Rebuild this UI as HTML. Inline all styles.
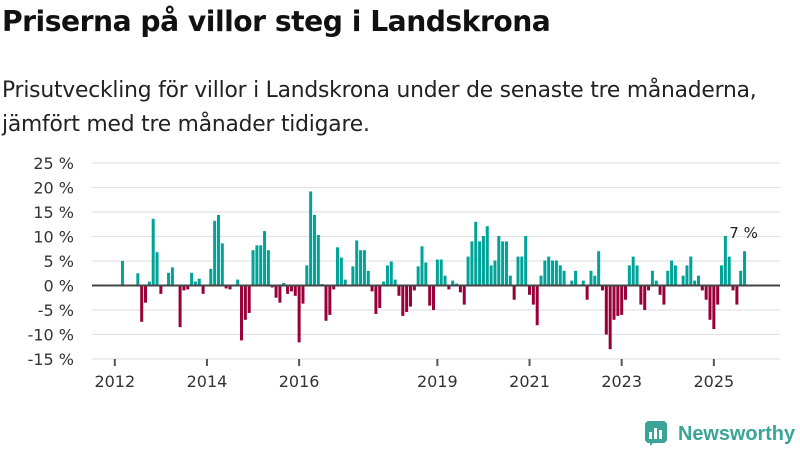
<!DOCTYPE html>
<html><head><meta charset="utf-8"><style>
body{margin:0;width:800px;height:450px;background:#fff;font-family:"Liberation Sans","DejaVu Sans",sans-serif;overflow:hidden;position:relative}
h1{position:absolute;left:2px;top:5px;margin:0;font-size:28.2px;font-weight:bold;color:#111;font-family:"DejaVu Sans","Liberation Sans",sans-serif;letter-spacing:-0.5px}
p{position:absolute;left:2px;top:74px;margin:0;font-size:21.8px;line-height:34px;color:#222;font-family:"DejaVu Sans","Liberation Sans",sans-serif;letter-spacing:-0.2px}
svg{position:absolute;left:0;top:0}
</style></head><body>
<h1>Priserna på villor steg i Landskrona</h1>
<p>Prisutveckling för villor i Landskrona under de senaste tre månaderna,<br>jämfört med tre månader tidigare.</p>
<svg id="chart" width="800" height="450"></svg>
<script>
const yTicks=[25,20,15,10,5,0,-5,-10,-15];
const xTickLabels=["2012","2014","2016","2019","2021","2023","2025"];
const xTickMonths=[0,24,48,84,108,132,156];
const values=[null,null,5,null,null,null,2.5,-7.4,-3.5,0.8,13.6,6.8,-1.7,null,2.6,3.7,null,-8.5,-1,-0.8,2.6,0.8,1.4,-1.7,null,3.4,13.2,14.4,8.6,-0.6,-0.8,null,1.2,-11.2,-7,-5.6,7.2,8.2,8.2,11.1,7.2,-0.4,-2.5,-3.5,0.5,-1.7,-1.2,-2.1,-11.6,-3.7,4.1,19.2,14.4,10.3,0.3,-7.2,-6,-0.8,7.8,5.7,1.2,null,3.9,9.2,7.2,7.2,3,-1.2,-5.8,-4.6,0.8,4.1,4.9,1.2,-2.1,-6.2,-5.4,-4.3,-1,3.9,8,4.7,-4.1,-5,5.3,5.3,2,-0.8,1,0.4,-1.4,-3.9,5.9,9,13,9,10.1,12.1,4.1,5.1,10.1,9,9,2,-2.9,5.9,5.9,10.1,-1.9,-3.9,-8.1,2,5.1,5.9,5.1,5.1,4.1,3,null,1,3,null,1,-2.9,3,2,7,-1,-10,-13,-7,-6.2,-6,-2.9,4.1,5.9,4.1,-3.9,-5,-1,3,1,-1.9,-3.9,3,5.1,4.1,null,2,4.1,5.9,1,2,-1,-2.9,-7,-8.9,-3.9,4.1,10.1,5.9,-1,-3.9,3,7];
const lastLabel="7 %";
const svg=document.getElementById('chart');
const NS='http://www.w3.org/2000/svg';
const y=v=>285.5-v*4.9;
const x=i=>114.8+i*3.84;
function mk(t,a){const e=document.createElementNS(NS,t);for(const k in a)e.setAttribute(k,a[k]);svg.appendChild(e);return e;}
yTicks.forEach(t=>{
  const g=mk('line',{x1:92,x2:780,y1:y(t),y2:y(t),stroke:'#e2e2e2','stroke-width':1.3});
  
  
  const l=mk('text',{x:74,y:y(t)+6,'text-anchor':'end','font-size':16,fill:'#333','font-family':'DejaVu Sans, sans-serif'});
  l.textContent=t+' %';
  
  
});
xTickMonths.forEach((m,k)=>{
  const t=mk('line',{x1:x(m),x2:x(m),y1:359,y2:366,stroke:'#555','stroke-width':2});
  
  
  const l=mk('text',{x:x(m),y:387,'text-anchor':'middle','font-size':16,fill:'#333','font-family':'DejaVu Sans, sans-serif'});
  l.textContent=xTickLabels[k];
  
  
});
values.forEach((v,i)=>{
  if(v===null)return;
  const r=mk('rect',{x:x(i)-1.5,y:Math.min(y(v),y(0)),width:3,height:Math.abs(y(v)-y(0)),fill:v>=0?'#00a398':'#99003a'});
  
  
});
const z=mk('line',{x1:92,x2:780,y1:y(0),y2:y(0),stroke:'#444','stroke-width':2});


const li=values.length-1;
const vl=mk('text',{x:x(li)-1,y:y(values[li])-13,'text-anchor':'middle','font-size':15,fill:'#222','font-family':'DejaVu Sans, sans-serif'});
vl.textContent=lastLabel;


</script>
<svg width="800" height="450" style="pointer-events:none">
<rect x="645" y="421" width="22" height="22" rx="4" fill="#3aa597"/>
<path d="M650 446 L650 440 L656 440 Z" fill="#3aa597"/>
<rect x="649" y="432" width="3" height="7" fill="#fff"/><rect x="654" y="428" width="3" height="11" fill="#fff"/><rect x="659" y="430" width="3" height="9" fill="#fff"/>
<text x="678" y="440" font-size="20" font-weight="bold" fill="#3aa597" font-family="Liberation Sans, sans-serif" textLength="117" lengthAdjust="spacingAndGlyphs">Newsworthy</text>
</svg>
</body></html>
